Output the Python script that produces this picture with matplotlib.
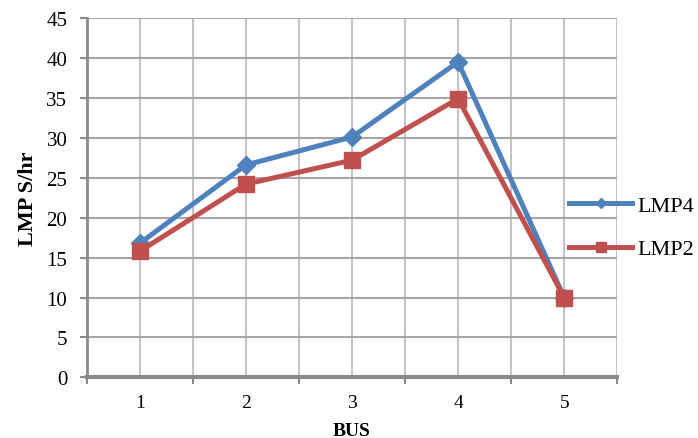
import matplotlib.pyplot as plt
from matplotlib.ticker import FixedLocator, MultipleLocator

plt.rc('font', family='Liberation Serif')

buses = ['1', '2', '3', '4', '5']
lmp4 = [16.8, 26.6, 30.1, 39.5, 10.0]
lmp2 = [15.8, 24.2, 27.2, 34.9, 10.0]

fig = plt.figure(figsize=(6.98, 4.39), dpi=100)
ax = fig.add_axes([0.1243, 0.138, 0.7600, 0.8187])

x = list(range(1, len(buses) + 1))
ax.plot(x, lmp4, color='#4F81BD', lw=3.6, marker='D', ms=9, label='LMP4', zorder=3)
ax.plot(x, lmp2, color='#C0504D', lw=3.6, marker='s', ms=11, label='LMP2', zorder=4)

ax.set_xlim(0.5, len(buses) + 0.5)
ax.set_ylim(0, 45)
ax.xaxis.set_major_locator(FixedLocator(x))
ax.set_xticklabels(buses)
ax.xaxis.set_minor_locator(FixedLocator([i + 0.5 for i in range(0, len(buses) + 1)]))
ax.yaxis.set_major_locator(MultipleLocator(5))

ax.grid(axis='x', which='both', color='#c4c4c4', lw=1.5)
ax.grid(axis='y', which='major', color='#a6a6a6', lw=1.5)
ax.set_axisbelow(True)

for s in ['top', 'right']:
    ax.spines[s].set_visible(False)
ax.spines['left'].set_color('#8a8a8a')
ax.spines['left'].set_linewidth(2)
ax.spines['bottom'].set_color('#8a8a8a')
ax.spines['bottom'].set_linewidth(3)

ax.tick_params(axis='x', which='major', length=0, labelsize=14, pad=12)
ax.tick_params(axis='x', which='minor', length=5, width=1.5, color='#8a8a8a', direction='out')
ax.tick_params(axis='y', which='major', length=5, width=1.5, color='#8a8a8a', labelsize=15, pad=9)

ax.set_xlabel('BUS', fontsize=14, fontweight='bold', labelpad=8)
ax.set_ylabel('LMP S/hr', fontsize=16, fontweight='bold', labelpad=6)

leg = ax.legend(loc='center left', bbox_to_anchor=(0.91, 0.418), frameon=False,
                fontsize=16, markerscale=0.6, handlelength=2.8, handletextpad=0.25,
                labelspacing=1.05, borderaxespad=0, borderpad=0)

fig.savefig('out.png', dpi=100, facecolor='white')
